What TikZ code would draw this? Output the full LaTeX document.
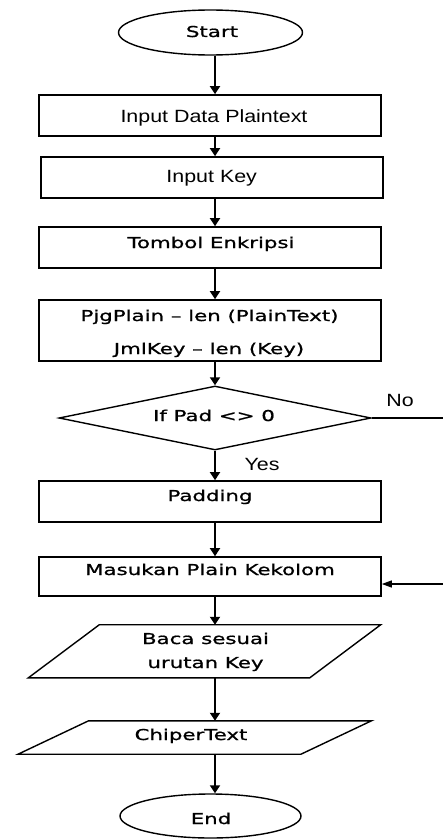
\documentclass[tikz,border=0pt]{standalone}
\usepackage{fontspec}
\usetikzlibrary{shapes.geometric,arrows.meta}
\newfontfamily\dvfont[FakeStretch=1.42,FakeBold=1]{DejaVu Sans}
\newfontfamily\arfont[FakeStretch=1.21]{Liberation Sans}
\tikzset{
  box/.style={draw, line width=1.6pt, rectangle, minimum width=342pt, inner sep=0pt},
  term/.style={draw, line width=1.4pt, ellipse, inner sep=0pt},
  dec/.style={draw, line width=1.4pt, diamond, inner sep=0pt, minimum width=312pt, minimum height=64pt},
  pg/.style={draw=none, rectangle, inner sep=0pt},
  dvt/.style={anchor=base, inner sep=0pt, font=\dvfont\fontsize{15}{22}\selectfont, align=center},
  art/.style={anchor=base, inner sep=0pt, font=\arfont\fontsize{17.7}{21}\selectfont},
  arr/.style={line width=1.8pt, -{Triangle[width=10pt,length=8pt]}},
  thin/.style={line width=1.2pt},
  back/.style={line width=1.2pt, -{Triangle[width=7pt,length=10pt]}},
}
\begin{document}
\begin{tikzpicture}[x=1pt,y=-1pt]
\useasboundingbox (0,0) rectangle (443,840);
\coordinate (ax) at (215,0);
\coordinate (rx) at (443,0);
% shapes
\node[term, minimum width=184pt, minimum height=45pt] (start) at (210.5,32.5) {};
\node[box, minimum height=41pt] (in1) at (210,115.5) {};
\node[box, minimum height=41pt] (in2) at (212,177.5) {};
\node[box, minimum height=41pt] (tombol) at (210,247.5) {};
\node[box, minimum height=61pt] (pjg) at (210,330.5) {};
\node[dec] (ifpad) at (215,418) {};
\node[box, minimum height=41pt] (pad) at (210,501.5) {};
\node[box, minimum height=39pt] (masuk) at (210,576.5) {};
\node[pg, minimum width=281pt, minimum height=52.7pt] (baca) at (204.5,651.3) {};
\draw[line width=1.4pt] ([xshift=35.5pt]baca.north west) -- ([xshift=35.5pt]baca.north east)
  -- ([xshift=-35.5pt]baca.south east) -- ([xshift=-35.5pt]baca.south west) -- cycle;
\node[pg, minimum width=282.5pt, minimum height=33pt] (chiper) at (194.75,737.5) {};
\draw[line width=1.4pt] ([xshift=35.25pt]chiper.north west) -- ([xshift=35.25pt]chiper.north east)
  -- ([xshift=-35.25pt]chiper.south east) -- ([xshift=-35.25pt]chiper.south west) -- cycle;
\node[term, minimum width=181pt, minimum height=44pt] (end) at (210.5,816) {};
% texts
\node[dvt] (tstart) at (212,37) {Start};
\node[art] (tin1) at (214,122) {Input Data Plaintext};
\node[art] (tin2) at (211.7,182) {Input Key};
\node[dvt] (ttombol) at (211,248) {Tombol Enkripsi};
\node[dvt] (tpjg1) at (209.5,321) {PjgPlain – len (PlainText)};
\node[dvt] (tpjg2) at (209,354) {JmlKey – len (Key)};
\node[dvt] (tif) at (214,421) {If Pad <> 0};
\node[art] (tno) at (400,406) {No};
\node[art] (tyes) at (262,470) {Yes};
\node[dvt] (tpad) at (210,501) {Padding};
\node[dvt] (tmasuk) at (210,575) {Masukan Plain Kekolom};
\node[dvt] (tbaca1) at (205.5,644) {Baca sesuai};
\node[dvt] (tbaca2) at (205.5,668) {urutan Key};
\node[dvt] (tchiper) at (191,740) {ChiperText};
\node[dvt] (tend) at (211,824) {End};
% connectors
\draw[arr] (start.south -| ax) -- (in1.north -| ax);
\draw[arr] (in1.south -| ax) -- (in2.north -| ax);
\draw[arr] (in2.south -| ax) -- (tombol.north -| ax);
\draw[arr] (tombol.south -| ax) -- (pjg.north -| ax);
\draw[arr] (pjg.south -| ax) -- (ifpad.north);
\draw[arr] (ifpad.south) -- (pad.north -| ax);
\draw[arr] (pad.south -| ax) -- (masuk.north -| ax);
\draw[arr] (masuk.south -| ax) -- (baca.north -| ax);
\draw[arr] (baca.south -| ax) -- (chiper.north -| ax);
\draw[arr] (chiper.south -| ax) -- (end.north -| ax);
\draw[thin] (ifpad.east) -- (ifpad.east -| rx);
\draw[back] ([yshift=-7.5pt]masuk.east -| rx) -- ([yshift=-7.5pt]masuk.east);
\end{tikzpicture}
\end{document}
